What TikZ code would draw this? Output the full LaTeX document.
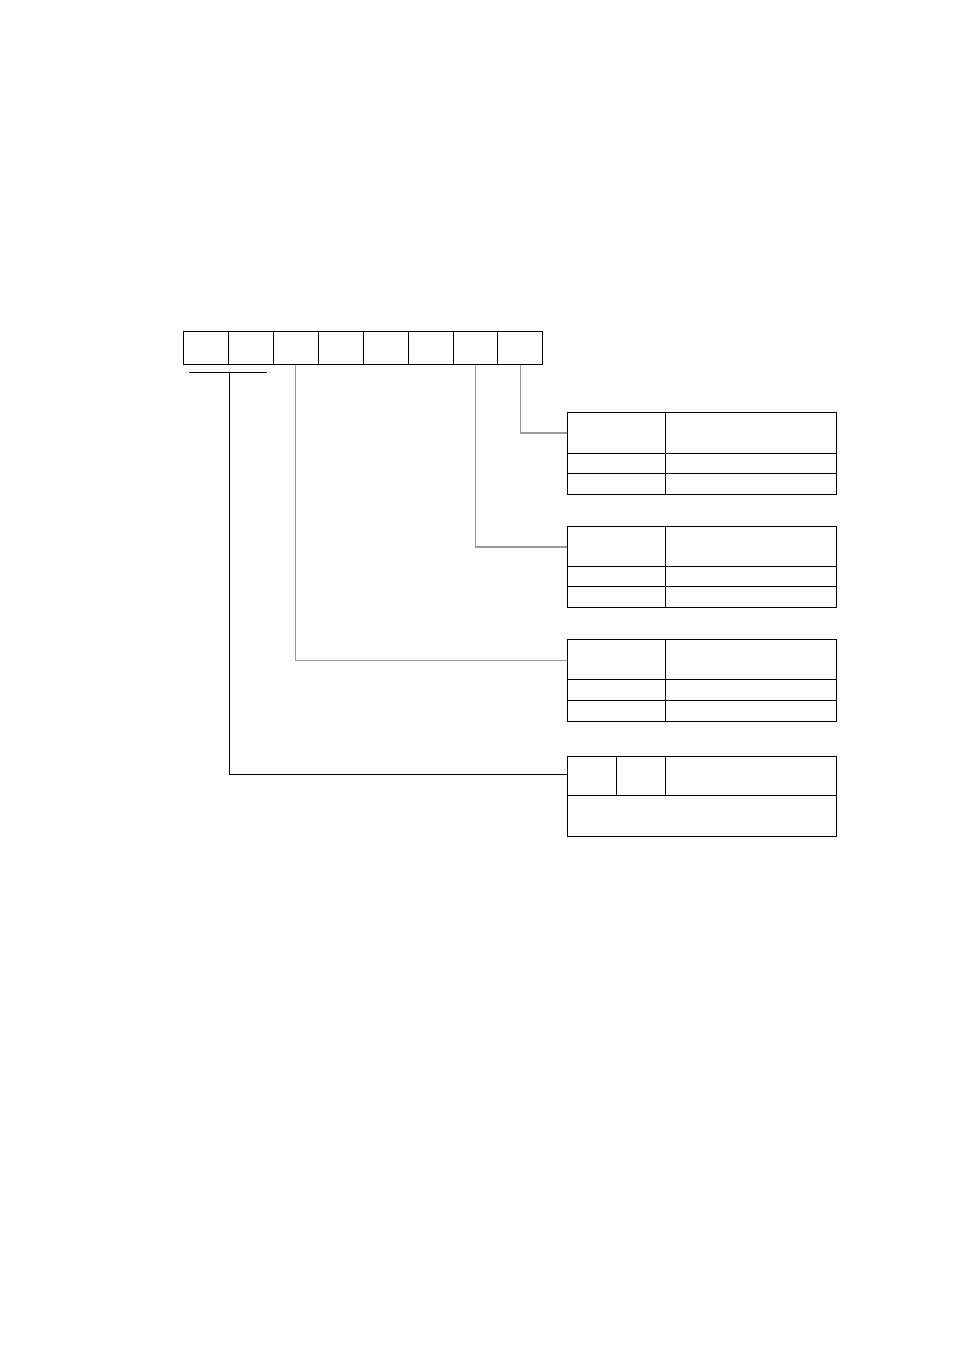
\documentclass[tikz,border=0pt]{standalone}
\begin{document}
\begin{tikzpicture}[x=1pt,y=-1pt,
  cell/.style={draw=black,line width=0.8pt,inner sep=0pt,minimum width=44.9pt,minimum height=33pt,anchor=north west},
  tbl/.style={draw=black,line width=0.8pt,inner sep=0pt,anchor=north west,minimum width=269pt},
  rule/.style={line width=0.8pt,draw=black},
  link/.style={line width=1.1pt,draw=black!40},
  blink/.style={line width=0.9pt,draw=black}]
\useasboundingbox[fill=white] (0,0) rectangle (954,1351);
% top register
\foreach \i/\x in {1/183,2/228,3/273,4/318,5/363,6/408,7/452.5,8/497.3}{
  \node[cell] (c\i) at (\x,331) {};
}
% table 1
\node[tbl,minimum height=81.5pt] (t1) at (567,412) {};
\draw[rule] (567,453) -- (836,453) (567,473.5) -- (836,473.5) (665,412) -- (665,493.5);
\coordinate (t1in) at (567,433);
% table 2
\node[tbl,minimum height=81.5pt] (t2) at (567,525.5) {};
\draw[rule] (567,566) -- (836,566) (567,586.5) -- (836,586.5) (665,525.5) -- (665,607);
\coordinate (t2in) at (567,547);
% table 3
\node[tbl,minimum height=82pt] (t3) at (567,638.5) {};
\draw[rule] (567,679.5) -- (836,679.5) (567,700) -- (836,700) (665,638.5) -- (665,720.5);
\coordinate (t3in) at (567,660.5);
% table 4
\node[tbl,minimum height=80.5pt] (t4) at (567,755.5) {};
\draw[rule] (567,795.5) -- (836,795.5) (616.5,755.5) -- (616.5,795.5) (665,755.5) -- (665,795.5);
\coordinate (t4in) at (567,774.5);
% bracket under first two cells
\coordinate (bl) at (189,372.5);
\coordinate (br) at (266.5,372.5);
\coordinate (bm) at (229.5,372.5);
\draw[blink] (bl) -- (br);
% connectors
\draw[link] (c8.south) |- (t1in);
\draw[link] (c7.south) |- (t2in);
\draw[link] (c3.south) |- (t3in);
\draw[blink] (bm) |- (t4in);
\end{tikzpicture}
\end{document}
